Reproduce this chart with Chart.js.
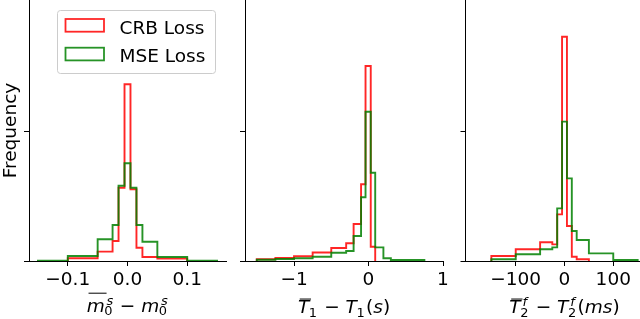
<!DOCTYPE html>
<html>
<head>
<meta charset="utf-8">
<script src="https://cdn.jsdelivr.net/npm/chart.js@4.4.1/dist/chart.umd.min.js"></script>
<style>
html, body { margin: 0; padding: 0; background: #fff; width: 640px; height: 319px; overflow: hidden; }
.panel { position: absolute; top: 0; left: 0; width: 680px; height: 319px; }
</style>
</head>
<body>
<div class="panel"><canvas id="p1"></canvas></div>
<div class="panel"><canvas id="p2"></canvas></div>
<div class="panel"><canvas id="p3"></canvas></div>
<script>
var seriesLabels = ['CRB Loss', 'MSE Loss'];

// m0^s error: bin edges and bin heights
var edges1 = [-0.15, -0.1, -0.05, -0.025, -0.015, -0.005, 0.005, 0.015, 0.025, 0.05, 0.1, 0.15];
var crb1 = [0, 0.21, 0.72, 1.54, 5.64, 13.6, 5.52, 1.02, 0.31, 0.18, 0];
var mse1 = [0.03, 0.38, 1.67, 2.77, 5.79, 7.52, 5.64, 2.77, 1.48, 0.31, 0.03];
var xRange1 = [-0.165, 0.165];
var xTicks1 = [-0.1, 0, 0.1];
var xTickLabels1 = ['\u22120.1', '0.0', '0.1'];

// T1 error (s)
var edges2 = [-1.5, -1.25, -1.0, -0.75, -0.5, -0.3, -0.2, -0.1, -0.04, 0.03, 0.09, 0.2, 0.3, 0.75];
var crb2 = [0.14, 0.23, 0.36, 0.65, 1.0, 1.36, 2.85, 5.9, 15.0, 1.1, 0, 0, 0];
var mse2 = [0.1, 0.15, 0.21, 0.33, 0.64, 0.77, 1.92, 4.9, 11.48, 6.79, 1.05, 0.21, 0.08];
var xRange2 = [-1.658, 1.0];
var xTicks2 = [-1, 0, 1];
var xTickLabels2 = ['\u22121', '0', '1'];

// T2^f error (ms)
var edges3 = [-150, -100, -50, -25, -15, -5, 5, 15, 25, 50, 100, 150];
var crb3 = [0.38, 0.9, 1.44, 1.28, 3.59, 17.25, 2.69, 0.33, 0.13, 0, 0];
var mse3 = [0.13, 0.52, 0.9, 1.05, 4.05, 10.72, 6.36, 2.31, 1.62, 0.59, 0.08];
var xRange3 = [-203, 203];
var xTicks3 = [-100, 0, 100];
var xTickLabels3 = ['\u2212100', '0', '100'];

var yRange = [0, 20.08];
var yTicks = [0, 10];

var FONT = 'DejaVu Sans';
var FS = 18.5;
var crbColor = 'rgba(255,0,0,0.85)';
var mseColor = 'rgba(0,128,0,0.85)';

function stepPoints(edges, h){
	var first = 0, last = h.length - 1;
	while(first < last && h[first] === 0) first++;
	while(last > first && h[last] === 0) last--;
	var pts = [{x: edges[first], y: 0}];
	for(var i = first; i <= last; i++) pts.push({x: edges[i], y: h[i]});
	pts.push({x: edges[last + 1], y: 0});
	return pts;
}

// draws a small mathtext-like label: italic letters, sub/superscripts, overline
function drawMath(ctx, pieces, cx, base){
	var ss = FS * 0.7;
	var mainFont = function(p){ return (p.it ? 'italic ' : '') + FS + 'px "' + FONT + '"'; };
	var scrFont = function(t){ return (/[a-z]/i.test(t) ? 'italic ' : '') + ss + 'px "' + FONT + '"'; };
	var items = pieces.map(function(p){
		ctx.font = mainFont(p);
		var w = ctx.measureText(p.t).width;
		var sw = 0;
		if(p.sub){ ctx.font = scrFont(p.sub); sw = Math.max(sw, ctx.measureText(p.sub).width); }
		if(p.sup){ ctx.font = scrFont(p.sup); sw = Math.max(sw, ctx.measureText(p.sup).width + FS * 0.08); }
		return {p: p, w: w, total: w + sw + (sw ? FS * 0.05 : 0)};
	});
	var total = items.reduce(function(a, b){ return a + b.total; }, 0);
	var x = cx - total / 2;
	ctx.save();
	ctx.fillStyle = '#000';
	ctx.strokeStyle = '#000';
	ctx.textBaseline = 'alphabetic';
	ctx.textAlign = 'left';
	items.forEach(function(it){
		var p = it.p;
		ctx.font = mainFont(p);
		ctx.fillText(p.t, x, base);
		if(p.over){
			ctx.lineWidth = 1;
			ctx.beginPath();
			ctx.moveTo(x + FS * 0.1, base - p.over * FS);
			ctx.lineTo(x + it.w + FS * 0.1, base - p.over * FS);
			ctx.stroke();
		}
		if(p.sup){
			ctx.font = scrFont(p.sup);
			ctx.fillText(p.sup, x + it.w + FS * 0.1, base - (p.sub ? 0.38 : 0.45) * FS);
		}
		if(p.sub){
			ctx.font = scrFont(p.sub);
			ctx.fillText(p.sub, x + it.w - FS * 0.02, base + 0.18 * FS);
		}
		x += it.total;
	});
	ctx.restore();
}

var legendPlugin = {
	id: 'boxLegend',
	afterDatasetsDraw: function(chart){
		var ctx = chart.ctx;
		ctx.save();
		var bx = 57.5, by = 10.5, bw = 158, bh = 63, r = 3;
		ctx.beginPath();
		ctx.moveTo(bx + r, by);
		ctx.arcTo(bx + bw, by, bx + bw, by + bh, r);
		ctx.arcTo(bx + bw, by + bh, bx, by + bh, r);
		ctx.arcTo(bx, by + bh, bx, by, r);
		ctx.arcTo(bx, by, bx + bw, by, r);
		ctx.closePath();
		ctx.fillStyle = 'rgba(255,255,255,0.8)';
		ctx.fill();
		ctx.strokeStyle = '#cccccc';
		ctx.lineWidth = 1;
		ctx.stroke();
		chart.data.datasets.forEach(function(ds, i){
			var cy = 25.3 + i * 28.7;
			ctx.strokeStyle = ds.borderColor;
			ctx.lineWidth = 1.8;
			ctx.strokeRect(65.5, cy - 6.3, 38.5, 12.7);
			ctx.fillStyle = '#000';
			ctx.font = FS + 'px "' + FONT + '"';
			ctx.textBaseline = 'alphabetic';
			ctx.fillText(ds.label, 119.5, cy + 8.2);
		});
		ctx.restore();
	}
};

var mathPlugin = {
	id: 'mathTitle',
	afterDraw: function(chart){
		var o = chart.options.plugins.mathTitle;
		var a = chart.chartArea;
		drawMath(chart.ctx, o.pieces, (a.left + a.right) / 2, o.base);
	}
};

function makeChart(id, o){
	var tickFont = {family: FONT, size: FS};
	return new Chart(document.getElementById(id), {
		type: 'line',
		data: {
			datasets: [
				{label: seriesLabels[0], data: stepPoints(o.edges, o.crb), borderColor: crbColor, stepped: 'before', order: 1},
				{label: seriesLabels[1], data: stepPoints(o.edges, o.mse), borderColor: mseColor, stepped: 'before', order: 0}
			]
		},
		options: {
			responsive: true,
			maintainAspectRatio: false,
			animation: false,
			events: [],
			layout: {padding: {left: o.left - o.yw, right: 680 - o.right, top: 0, bottom: 0}},
			elements: {line: {borderWidth: 1.9, fill: false, tension: 0}, point: {radius: 0}},
			plugins: {
				legend: {display: false},
				tooltip: {enabled: false},
				mathTitle: {pieces: o.label, base: o.base}
			},
			scales: {
				x: {
					type: 'linear', min: o.range[0], max: o.range[1],
					afterBuildTicks: function(s){ s.ticks = o.ticks.map(function(v){ return {value: v}; }); },
					afterFit: function(s){ s.height = 58; s.paddingLeft = 0; s.paddingRight = 0; },
					grid: {drawOnChartArea: false, drawTicks: true, tickLength: 5, tickColor: '#000', tickWidth: 1},
					border: {display: true, color: '#000', width: 1},
					ticks: {
						font: tickFont, color: '#000', padding: 3, maxRotation: 0, autoSkip: false,
						callback: function(v){ return o.tickLabels[o.ticks.indexOf(v)]; }
					}
				},
				y: {
					type: 'linear', min: yRange[0], max: yRange[1],
					afterBuildTicks: function(s){ s.ticks = yTicks.map(function(v){ return {value: v}; }); },
					afterFit: function(s){ s.width = o.yw; s.paddingTop = 0; s.paddingBottom = 0; },
					grid: {drawOnChartArea: false, drawTicks: true, tickLength: 5, tickColor: '#000', tickWidth: 1},
					border: {display: true, color: '#000', width: 1},
					ticks: {display: false},
					title: {display: !!o.ytitle, text: o.ytitle || '', font: tickFont, color: '#000', padding: 0}
				}
			}
		},
		plugins: o.legend ? [mathPlugin, legendPlugin] : [mathPlugin]
	});
}

makeChart('p1', {
	edges: edges1, crb: crb1, mse: mse1, range: xRange1, ticks: xTicks1, tickLabels: xTickLabels1,
	left: 29, right: 226, yw: 29, ytitle: 'Frequency', legend: true, base: 311.7,
	label: [{t: 'm', it: true, sup: 's', sub: '0', over: 1.0}, {t: ' \u2212 '}, {t: 'm', it: true, sup: 's', sub: '0'}]
});
makeChart('p2', {
	edges: edges2, crb: crb2, mse: mse2, range: xRange2, ticks: xTicks2, tickLabels: xTickLabels2,
	left: 245, right: 443, yw: 10, base: 313.3,
	label: [{t: 'T', it: true, sub: '1', over: 0.77}, {t: ' \u2212 '}, {t: 'T', it: true, sub: '1'}, {t: '('}, {t: 's', it: true}, {t: ')'}]
});
makeChart('p3', {
	edges: edges3, crb: crb3, mse: mse3, range: xRange3, ticks: xTicks3, tickLabels: xTickLabels3,
	left: 465.5, right: 663.5, yw: 10, base: 313.3,
	label: [{t: 'T', it: true, sub: '2', sup: 'f', over: 0.77}, {t: ' \u2212 '}, {t: 'T', it: true, sub: '2', sup: 'f'}, {t: '('}, {t: 'ms', it: true}, {t: ')'}]
});
</script>
</body>
</html>
